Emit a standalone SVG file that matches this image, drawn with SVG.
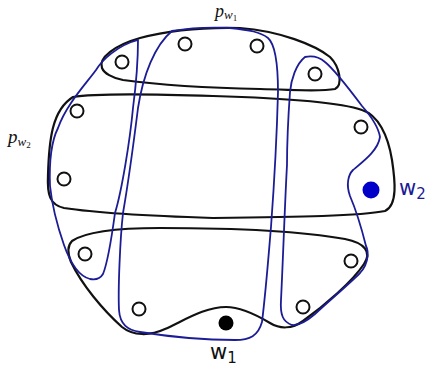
<svg xmlns="http://www.w3.org/2000/svg" width="426" height="373" viewBox="0 0 426 373">
<style>
.k{fill:none;stroke:#111;stroke-width:2.2;stroke-linejoin:round}
.b{fill:none;stroke:#1c1c96;stroke-width:1.8;stroke-linejoin:round}
.o{fill:#fff;stroke:#111;stroke-width:2}
.m{font-family:"Liberation Serif",serif;font-style:italic;fill:#111}
.s{font-family:"DejaVu Sans",sans-serif}
</style>
<g id="sets-black">
<path class="k" d="M102,68 C98,58 115,45 140,38 C170,30 200,27 240,28 C280,31 315,45 330,57 C340,67 343,85 335,89 C320,92 300,90 260,89 C210,88 160,85 123,80 C112,78 104,73 102,68 Z"/>
<path class="k" d="M73,97 C90,94 150,94 213,96 C280,98 340,102 362,110 C378,115 388,135 392,160 C395,180 398,205 385,211 C360,216 300,217 213,218 C150,216 90,212 64,208 C50,205 47,195 48,175 C49,140 52,110 73,97 Z"/>
<path class="k" d="M72,241 C85,232 120,228 160,228 C230,228 300,231 345,239 C365,243 372,252 364,264 C352,282 325,305 303,321 C292,329 280,329 270,323 C255,314 240,307 226,307 C205,307 185,320 165,329 C150,336 133,336 122,327 C103,310 82,285 71,262 C67,252 68,245 72,241 Z"/>
</g>
<g id="sets-blue">
<path class="b" d="M96,70 C102,60 118,45 138,40 C138,60 136,85 133,108 C130,140 122,190 115,213 C112,235 108,262 103,274 C100,279 95,280 90,279 C78,276 70,262 64,245 C57,225 52,205 50,186 C49,160 52,140 58,128 C66,105 85,85 96,70 Z"/>
<path class="b" d="M172,31 C155,45 143,75 138,108 C134,140 127,190 123,213 C120,240 118,290 119,310 C120,325 128,330 140,332 C165,336 200,340 235,340 C250,340 258,336 262,322 C266,290 269,250 271,227 C273,200 277,130 278,92 C278,65 276,45 268,38 C260,32 250,30 230,28 C210,27 190,28 172,31 Z"/>
<path class="b" d="M305,57 C296,64 291,80 290,92 C288,120 287,140 287,165 C285,200 283,260 281,300 C280,315 283,322 292,325 C300,326 308,320 315,314 C330,300 348,285 360,273 C370,262 368,250 366,246 C362,230 356,210 350,196 C346,185 348,175 353,170 C365,160 378,150 380,137 C378,125 370,115 362,106 C350,90 335,70 325,62 C318,56 310,56 305,57 Z"/>
</g>
<g id="points">
<circle class="o" cx="122" cy="62" r="6.5"/>
<circle class="o" cx="185" cy="44" r="6.5"/>
<circle class="o" cx="257" cy="46" r="6.5"/>
<circle class="o" cx="315" cy="74" r="6.5"/>
<circle class="o" cx="77" cy="111" r="6.5"/>
<circle class="o" cx="361" cy="127" r="6.5"/>
<circle class="o" cx="64" cy="179" r="6.5"/>
<circle class="o" cx="85" cy="254" r="6.5"/>
<circle class="o" cx="351" cy="261" r="6.5"/>
<circle class="o" cx="139" cy="309" r="6.5"/>
<circle class="o" cx="303" cy="307" r="6.5"/>
<circle cx="226" cy="323" r="7.5" fill="#000"/>
<circle cx="371" cy="190" r="8.5" fill="#0000c8"/>
</g>
<g id="labels">
<text class="m" x="215" y="17" font-size="18">p<tspan font-size="13" dy="2">w</tspan><tspan font-size="9" dy="2" font-style="normal">1</tspan></text>
<text class="m" x="8" y="143" font-size="19">p<tspan font-size="13" dy="3">w</tspan><tspan font-size="9" dy="2" font-style="normal">2</tspan></text>
<text class="s" x="399" y="195" font-size="21" fill="#1c1c96">w<tspan font-size="15" dy="4">2</tspan></text>
<text class="s" x="210" y="359" font-size="21" fill="#111">w<tspan font-size="15" dy="4">1</tspan></text>
</g>
</svg>
